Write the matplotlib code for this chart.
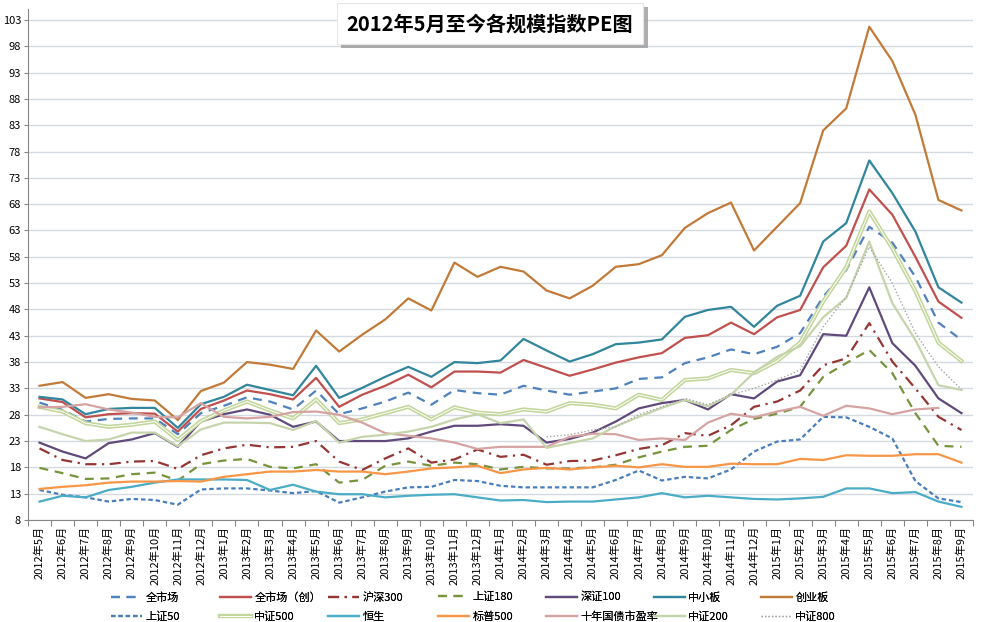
import numpy as np
import matplotlib
matplotlib.use("Agg")
import matplotlib.pyplot as plt
import matplotlib.patheffects as pe

plt.rcParams['font.family'] = ['Noto Sans CJK SC', 'DejaVu Sans']

nan = np.nan

months = ["2012年5月", "2012年6月", "2012年7月", "2012年8月", "2012年9月", "2012年10月",
          "2012年11月", "2012年12月", "2013年1月", "2013年2月", "2013年3月", "2013年4月",
          "2013年5月", "2013年6月", "2013年7月", "2013年8月", "2013年9月", "2013年10月",
          "2013年11月", "2013年12月", "2014年1月", "2014年2月", "2014年3月", "2014年4月",
          "2014年5月", "2014年6月", "2014年7月", "2014年8月", "2014年9月", "2014年10月",
          "2014年11月", "2014年12月", "2015年1月", "2015年2月", "2015年3月", "2015年4月",
          "2015年5月", "2015年6月", "2015年7月", "2015年8月", "2015年9月"]

quan_shichang = [30.3, 28.9, 26.7, 27.2, 27.3, 27.3, 24.3, 28.3, 29.7, 31.3, 30.5, 29.0, 32.6, 28.1,
                 29.2, 30.5, 32.2, 29.9, 32.7, 32.1, 31.8, 33.5, 32.6, 31.8, 32.4, 33.0, 34.8, 35.1,
                 37.8, 38.9, 40.4, 39.5, 40.9, 43.5, 50.4, 55.5, 63.7, 60.7, 54.2, 45.5, 42.2]
quan_chuang = [31.1, 30.4, 27.5, 28.1, 28.3, 28.2, 24.8, 29.1, 30.7, 32.6, 31.9, 30.9, 35.0, 29.5,
               31.8, 33.5, 35.6, 33.2, 36.2, 36.2, 36.0, 38.4, 36.9, 35.4, 36.6, 37.9, 38.9, 39.7,
               42.6, 43.1, 45.5, 43.3, 46.5, 47.9, 56.0, 60.1, 70.8, 66.0, 58.0, 49.5, 46.4]
hs300 = [21.6, 19.4, 18.6, 18.6, 19.1, 19.2, 17.7, 20.3, 21.6, 22.3, 21.8, 21.9, 23.0, 19.1,
         17.5, 19.7, 21.6, 18.9, 19.5, 21.4, 20.0, 20.4, 18.5, 19.2, 19.3, 20.3, 21.5, 22.2,
         24.5, 24.0, 26.0, 29.5, 30.5, 32.6, 37.4, 38.7, 45.4, 38.1, 33.0, 27.6, 25.1]
sz180 = [17.9, 16.9, 15.8, 15.9, 16.7, 17.0, 15.5, 18.6, 19.3, 19.6, 18.1, 17.8, 18.6, 15.1,
         15.6, 18.3, 19.1, 18.3, 18.9, 18.6, 17.6, 18.1, 17.8, 17.8, 18.0, 18.5, 19.9, 21.0,
         21.9, 22.1, 25.1, 27.2, 28.2, 29.5, 35.2, 37.8, 40.3, 35.9, 28.3, 22.1, 21.9]
szc100 = [22.7, 21.0, 19.7, 22.6, 23.3, 24.5, 21.9, 26.7, 28.1, 29.0, 28.0, 25.7, 26.7, 23.0,
          23.0, 23.0, 23.5, 24.8, 25.9, 25.9, 26.2, 25.9, 22.7, 23.4, 24.6, 26.7, 29.2, 30.2,
          30.8, 29.0, 31.9, 31.1, 34.3, 35.5, 43.3, 43.0, 52.2, 41.6, 37.3, 31.1, 28.3]
zxb = [31.4, 30.9, 28.1, 29.1, 29.3, 29.3, 25.5, 30.0, 31.4, 33.7, 32.7, 31.7, 37.3, 31.2,
       33.1, 35.2, 37.1, 35.2, 38.0, 37.8, 38.3, 42.4, 40.2, 38.1, 39.5, 41.4, 41.7, 42.3,
       46.6, 47.9, 48.5, 44.7, 48.7, 50.6, 60.9, 64.4, 76.3, 70.1, 62.8, 52.2, 49.3]
cyb = [33.5, 34.2, 31.2, 31.9, 31.0, 30.7, 27.0, 32.5, 34.1, 38.0, 37.5, 36.7, 44.0, 40.0,
       43.2, 46.1, 50.1, 47.8, 56.9, 54.2, 56.1, 55.2, 51.6, 50.1, 52.5, 56.1, 56.6, 58.3,
       63.5, 66.3, 68.3, 59.2, 63.7, 68.2, 82.0, 86.2, 101.7, 95.2, 85.0, 68.8, 66.8]
sz50 = [13.7, 12.8, 12.3, 11.5, 12.0, 11.8, 10.9, 13.8, 14.0, 14.0, 13.6, 13.1, 13.5, 11.3,
        12.3, 13.4, 14.2, 14.3, 15.6, 15.4, 14.5, 14.2, 14.2, 14.2, 14.2, 15.6, 17.4, 15.5,
        16.2, 15.9, 17.6, 21.0, 22.9, 23.3, 27.6, 27.5, 25.7, 23.5, 15.4, 12.1, 11.4]
zz500 = [29.5, 28.6, 26.4, 25.7, 26.1, 26.7, 23.2, 26.8, 28.8, 30.5, 28.8, 27.3, 30.9, 26.4,
         27.1, 28.3, 29.5, 27.1, 29.4, 28.4, 28.1, 29.0, 28.6, 30.2, 29.9, 29.2, 31.8, 30.8,
         34.6, 34.9, 36.5, 35.9, 38.2, 41.7, 49.5, 56.0, 66.6, 59.6, 51.5, 41.7, 38.2]
hengsheng = [11.5, 12.6, 12.3, 13.7, 14.3, 15.1, 15.7, 15.7, 15.7, 15.6, 13.7, 14.7, 13.4, 12.9,
             12.9, 12.3, 12.6, 12.8, 12.9, 12.3, 11.7, 11.8, 11.4, 11.5, 11.5, 11.9, 12.3, 13.1,
             12.3, 12.6, 12.3, 12.0, 11.9, 12.1, 12.4, 14.0, 14.0, 13.1, 13.3, 11.5, 10.5]
sp500 = [13.9, 14.3, 14.6, 15.1, 15.3, 15.3, 15.4, 15.3, 16.2, 16.7, 17.2, 17.2, 17.5, 17.2,
         17.2, 16.7, 17.2, 17.8, 18.0, 18.3, 16.9, 17.6, 17.9, 17.6, 18.0, 18.3, 18.0, 18.6,
         18.1, 18.1, 18.7, 18.6, 18.6, 19.6, 19.4, 20.3, 20.2, 20.2, 20.5, 20.5, 18.9]
guozhai = [29.4, 29.5, 30.0, 29.0, 28.4, 27.6, 27.5, 30.2, 27.6, 27.3, 27.6, 28.5, 28.6, 28.0,
           26.5, 24.5, 24.0, 23.5, 22.7, 21.5, 21.9, 21.9, 21.9, 23.8, 24.4, 24.3, 23.2, 23.5,
           23.2, 26.5, 28.2, 27.5, 28.6, 29.5, 27.8, 29.7, 29.2, 28.1, 29.0, 29.3, nan]
zz200 = [25.7, 24.3, 23.0, 23.3, 24.6, 24.6, 22.0, 25.2, 26.5, 26.5, 26.4, 25.1, 26.8, 22.7,
         23.8, 24.2, 24.8, 25.7, 27.1, 28.1, 26.4, 27.1, 21.7, 22.6, 23.5, 25.8, 27.6, 29.3,
         30.8, 29.6, 31.8, 36.0, 39.0, 41.0, 46.5, 50.2, 60.9, 49.2, 42.2, 33.6, 32.7]
zz800 = [nan] * 22 + [23.8, 24.2, 25.1, 25.7, 28.0, 29.5, 31.1, 29.9, 31.8, 33.0, 34.6, 36.5,
                      44.7, 50.4, 59.9, 53.0, 43.5, 37.1, 32.8]

fig = plt.figure(figsize=(9.81, 6.22), dpi=100)
ax = fig.add_axes([28 / 981, 102 / 622, 945 / 981, 510.6 / 622])

x = np.arange(len(months))
dash = (0, (4, 3))

ax.plot(x, quan_shichang, color='#4F81BD', lw=1.6, ls=dash, label='全市场')
ax.plot(x, quan_chuang, color='#C0504D', lw=1.6, label='全市场（创）')
ax.plot(x, hs300, color='#943634', lw=1.6, ls=(0, (5, 2.5, 1, 2.5)), label='沪深300')
ax.plot(x, sz180, color='#77933C', lw=1.6, ls=dash, label='上证180')
ax.plot(x, szc100, color='#604A7B', lw=1.6, label='深证100')
ax.plot(x, zxb, color='#31859C', lw=1.6, label='中小板')
ax.plot(x, cyb, color='#C27A38', lw=1.6, label='创业板')
ax.plot(x, sz50, color='#4A7EBB', lw=1.6, ls=(0, (2, 1.3)), label='上证50')
ax.plot(x, zz500, color='white', lw=0.7, label='中证500',
        path_effects=[pe.Stroke(linewidth=3.0, foreground='#C3D69B'), pe.Normal()])
ax.plot(x, hengsheng, color='#4BACC6', lw=1.6, label='恒生')
ax.plot(x, sp500, color='#F79646', lw=1.6, label='标普500')
ax.plot(x, guozhai, color='#D6A3A3', lw=1.6, label='十年国债市盈率')
ax.plot(x, zz200, color='#C6D4AC', lw=1.6, label='中证200')
ax.plot(x, zz800, color='#A6A6A6', lw=1.0, ls=(0, (1, 1.5)), label='中证800')

ax.set_xlim(-0.5, len(months) - 0.5)
ax.set_ylim(8, 105)
ax.set_yticks(np.arange(8, 104, 5))
ax.tick_params(axis='y', labelsize=8, length=3, color='#868686', pad=2)
ax.grid(axis='y', color='#D5DAE0', lw=1)
ax.set_axisbelow(True)

ax.set_xticks(np.arange(-0.5, len(months), 1))
ax.set_xticklabels([])
ax.set_xticks(x, minor=True)
ax.set_xticklabels(months, minor=True, rotation=90, fontsize=8.0, va='top', ha='center')
ax.tick_params(axis='x', which='major', length=4, color='#868686')
ax.tick_params(axis='x', which='minor', length=0, pad=4)

for s in ['top', 'right']:
    ax.spines[s].set_visible(False)
for s in ['left', 'bottom']:
    ax.spines[s].set_color('#868686')

# legend: 7 columns of 2 entries, placed like the Excel layout
handles, labels = ax.get_legend_handles_labels()
col_x = [111, 220, 328, 438, 546, 654, 761]
for j in range(7):
    leg = fig.legend([handles[j], handles[j + 7]], [labels[j], labels[j + 7]],
                     loc='upper left', bbox_to_anchor=(col_x[j] / 981, 1 - 592 / 622),
                     frameon=False, fontsize=8.0, handlelength=2.8, handletextpad=0.3,
                     labelspacing=0.8, borderpad=0, borderaxespad=0)
    fig.add_artist(leg)

t = fig.text(0.4995, 0.962, '2012年5月至今各规模指数PE图', ha='center', va='center',
             fontsize=14.5, fontweight='bold',
             bbox=dict(boxstyle='square,pad=0.5', fc='white', ec='#E6E6E6', lw=0.8))
t.get_bbox_patch().set_path_effects([pe.withSimplePatchShadow(offset=(3, -3), shadow_rgbFace='#9A9A9A', alpha=0.8)])

fig.savefig('out.png', dpi=100)
